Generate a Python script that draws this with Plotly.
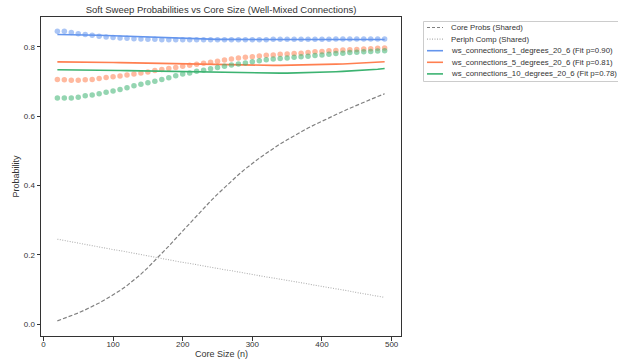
import plotly.graph_objects as go

# Core sizes sampled
core_size = list(range(20, 500, 10))

# Shared reference curves
core_probs = [0.009, 0.016, 0.024, 0.032, 0.041, 0.050, 0.061, 0.072, 0.084, 0.097,
              0.111, 0.127, 0.144, 0.163, 0.183, 0.204, 0.225, 0.247, 0.269, 0.291,
              0.313, 0.334, 0.355, 0.375, 0.394, 0.413, 0.431, 0.448, 0.464, 0.479,
              0.493, 0.507, 0.520, 0.532, 0.544, 0.555, 0.566, 0.576, 0.586, 0.596,
              0.605, 0.614, 0.623, 0.632, 0.641, 0.649, 0.657, 0.665]
periph_comp = [0.245, 0.241, 0.238, 0.234, 0.230, 0.227, 0.223, 0.219, 0.215, 0.212,
               0.208, 0.204, 0.200, 0.197, 0.193, 0.189, 0.186, 0.182, 0.178, 0.175,
               0.171, 0.168, 0.164, 0.161, 0.157, 0.154, 0.150, 0.147, 0.143, 0.140,
               0.136, 0.133, 0.130, 0.126, 0.123, 0.119, 0.116, 0.112, 0.109, 0.105,
               0.102, 0.098, 0.095, 0.091, 0.088, 0.084, 0.081, 0.077]

# Observed soft-sweep probabilities per network
obs_1deg = [0.845, 0.845, 0.842, 0.838, 0.836, 0.834, 0.831, 0.829, 0.827, 0.826,
            0.825, 0.824, 0.823, 0.822, 0.822, 0.821, 0.821, 0.821, 0.821, 0.821,
            0.821, 0.821, 0.821, 0.821, 0.821, 0.821, 0.821, 0.821, 0.821, 0.821,
            0.821, 0.822, 0.822, 0.822, 0.822, 0.822, 0.822, 0.822, 0.822, 0.822,
            0.823, 0.823, 0.823, 0.823, 0.823, 0.823, 0.823, 0.823]
obs_5deg = [0.706, 0.705, 0.704, 0.704, 0.705, 0.706, 0.709, 0.712, 0.714, 0.716,
            0.719, 0.722, 0.725, 0.728, 0.732, 0.735, 0.738, 0.741, 0.744, 0.747,
            0.750, 0.753, 0.756, 0.759, 0.762, 0.765, 0.768, 0.770, 0.772, 0.774,
            0.776, 0.777, 0.779, 0.780, 0.781, 0.782, 0.784, 0.786, 0.787, 0.789,
            0.790, 0.791, 0.792, 0.793, 0.794, 0.795, 0.796, 0.797]
obs_10deg = [0.653, 0.653, 0.653, 0.655, 0.659, 0.661, 0.665, 0.669, 0.673, 0.677,
             0.682, 0.688, 0.692, 0.697, 0.701, 0.706, 0.711, 0.717, 0.722, 0.725,
             0.730, 0.733, 0.737, 0.741, 0.744, 0.748, 0.751, 0.754, 0.757, 0.760,
             0.763, 0.765, 0.767, 0.768, 0.770, 0.772, 0.773, 0.775, 0.777, 0.779,
             0.781, 0.782, 0.784, 0.785, 0.786, 0.787, 0.788, 0.789]

# Fitted curves per network
fit_1deg = [0.836, 0.836, 0.836, 0.8355, 0.835, 0.8345, 0.834, 0.8333, 0.8325, 0.8318,
            0.831, 0.830, 0.8295, 0.8285, 0.8275, 0.8265, 0.8258, 0.825, 0.8243, 0.8236,
            0.823, 0.8226, 0.8223, 0.822, 0.8218, 0.8217, 0.8216, 0.8215, 0.8215, 0.8215,
            0.8215, 0.8215, 0.8215, 0.8215, 0.8215, 0.8215, 0.8215, 0.8215, 0.8215, 0.8215,
            0.8215, 0.8215, 0.8215, 0.8215, 0.8215, 0.8215, 0.8215, 0.8215]
fit_5deg = [0.757, 0.757, 0.7568, 0.7566, 0.7564, 0.7561, 0.7558, 0.7555, 0.7552, 0.7548,
            0.7544, 0.754, 0.7535, 0.753, 0.7525, 0.752, 0.7513, 0.7507, 0.7501, 0.7495,
            0.749, 0.7485, 0.748, 0.7476, 0.7473, 0.747, 0.7468, 0.7467, 0.7466, 0.7466,
            0.7466, 0.7467, 0.7468, 0.747, 0.7473, 0.7476, 0.748, 0.7485, 0.749, 0.7496,
            0.7503, 0.751, 0.7518, 0.7526, 0.7535, 0.7545, 0.7558, 0.7575]
fit_10deg = [0.734, 0.734, 0.7338, 0.7336, 0.7334, 0.7332, 0.733, 0.7327, 0.7324, 0.7321,
             0.7318, 0.7314, 0.731, 0.7306, 0.7302, 0.7297, 0.7292, 0.7287, 0.7282, 0.7277,
             0.7272, 0.7267, 0.7263, 0.7259, 0.7255, 0.7252, 0.7249, 0.7247, 0.7245, 0.7244,
             0.7243, 0.7243, 0.7244, 0.7246, 0.7249, 0.7253, 0.7258, 0.7264, 0.727, 0.7277,
             0.7285, 0.7294, 0.7303, 0.7313, 0.7324, 0.7336, 0.7357, 0.738]

series_names = ["ws_connections_1_degrees_20_6 (Fit p=0.90)",
                "ws_connections_5_degrees_20_6 (Fit p=0.81)",
                "ws_connections_10_degrees_20_6 (Fit p=0.78)"]
line_colors = ["#6495ED", "#FF7F50", "#3CB371"]
dot_colors = ["rgba(100,149,237,0.55)", "rgba(255,127,80,0.55)", "rgba(60,179,113,0.55)"]

FONT = "Liberation Sans, Arial, sans-serif"
TEXT = "#333333"

W, H = 618, 363
ML, MR, MT, MB = 41, 217, 17, 27
PW, PH = W - ML - MR, H - MT - MB


def px_x(px):
    """Pixel column -> paper x."""
    return (px - ML) / PW


def px_y(py):
    """Pixel row -> paper y."""
    return (H - MB - py) / PH


fig = go.Figure()

fig.add_trace(go.Scatter(x=core_size, y=core_probs, mode="lines", showlegend=False,
                         line=dict(color="#808080", width=1.2, dash="4px,2px")))
fig.add_trace(go.Scatter(x=core_size, y=periph_comp, mode="lines", showlegend=False,
                         line=dict(color="#b0b0b0", width=1.1, dash="1px,1.5px")))

for obs, fit, lc, dc in zip([obs_1deg, obs_5deg, obs_10deg],
                            [fit_1deg, fit_5deg, fit_10deg],
                            line_colors, dot_colors):
    fig.add_trace(go.Scatter(x=core_size, y=obs, mode="markers", showlegend=False,
                             marker=dict(color=dc, size=5.5, line=dict(width=0))))
    fig.add_trace(go.Scatter(x=core_size, y=fit, mode="lines", showlegend=False,
                             line=dict(color=lc, width=1.6)))

# Legend box outside the axes, drawn with shapes and annotations
legend_labels = ["Core Probs (Shared)", "Periph Comp (Shared)"] + series_names
legend_styles = [dict(color="#808080", width=1.2, dash="3px,2px"),
                 dict(color="#b0b0b0", width=1.1, dash="1px,1.5px")] + \
                [dict(color=c, width=1.6) for c in line_colors]

shapes = [dict(type="rect", xref="paper", yref="paper",
               x0=px_x(423.5), x1=px_x(640), y0=px_y(81.5), y1=px_y(21.5),
               line=dict(color="#cccccc", width=1), fillcolor="white", layer="above")]
annotations = []
for i, (lab, sty) in enumerate(zip(legend_labels, legend_styles)):
    yc = px_y(27.5 + 11.6 * i)
    shapes.append(dict(type="line", xref="paper", yref="paper",
                       x0=px_x(427), x1=px_x(443), y0=yc, y1=yc, line=sty, layer="above"))
    annotations.append(dict(text=lab, xref="paper", yref="paper", x=px_x(448.5), y=yc,
                            xanchor="left", yanchor="middle", showarrow=False,
                            font=dict(family=FONT, size=7.8, color=TEXT)))

# Axis titles
annotations.append(dict(text="Core Size (n)", xref="paper", yref="paper", x=0.5, y=px_y(354),
                        xanchor="center", yanchor="middle", showarrow=False,
                        font=dict(family=FONT, size=9, color=TEXT)))
annotations.append(dict(text="Probability", xref="paper", yref="paper", x=px_x(15), y=0.5,
                        xanchor="center", yanchor="middle", showarrow=False, textangle=-90,
                        font=dict(family=FONT, size=9, color=TEXT)))

axis_common = dict(showline=True, linecolor="#333333", linewidth=1, mirror=True,
                   ticks="outside", ticklen=3.5, tickwidth=1, tickcolor="#333333",
                   showgrid=False, zeroline=False,
                   tickfont=dict(family=FONT, size=8, color=TEXT))

fig.update_layout(
    width=W, height=H,
    margin=dict(l=ML, r=MR, t=MT, b=MB, autoexpand=False),
    plot_bgcolor="white", paper_bgcolor="white",
    font=dict(family=FONT, size=8, color=TEXT),
    title=dict(text="Soft Sweep Probabilities vs Core Size (Well-Mixed Connections)",
               x=(ML + PW / 2) / W, xanchor="center", y=1 - 10 / H, yanchor="middle",
               font=dict(family=FONT, size=9.5, color=TEXT)),
    xaxis=dict(range=[-3.5, 513.5], tickvals=[0, 100, 200, 300, 400, 500],
               ticklabelstandoff=-3, **axis_common),
    yaxis=dict(range=[-0.0345, 0.8865], tickvals=[0.0, 0.2, 0.4, 0.6, 0.8], tickformat=".1f",
               **axis_common),
    shapes=shapes,
    annotations=annotations,
    showlegend=False,
)

fig.write_html("out.html")
